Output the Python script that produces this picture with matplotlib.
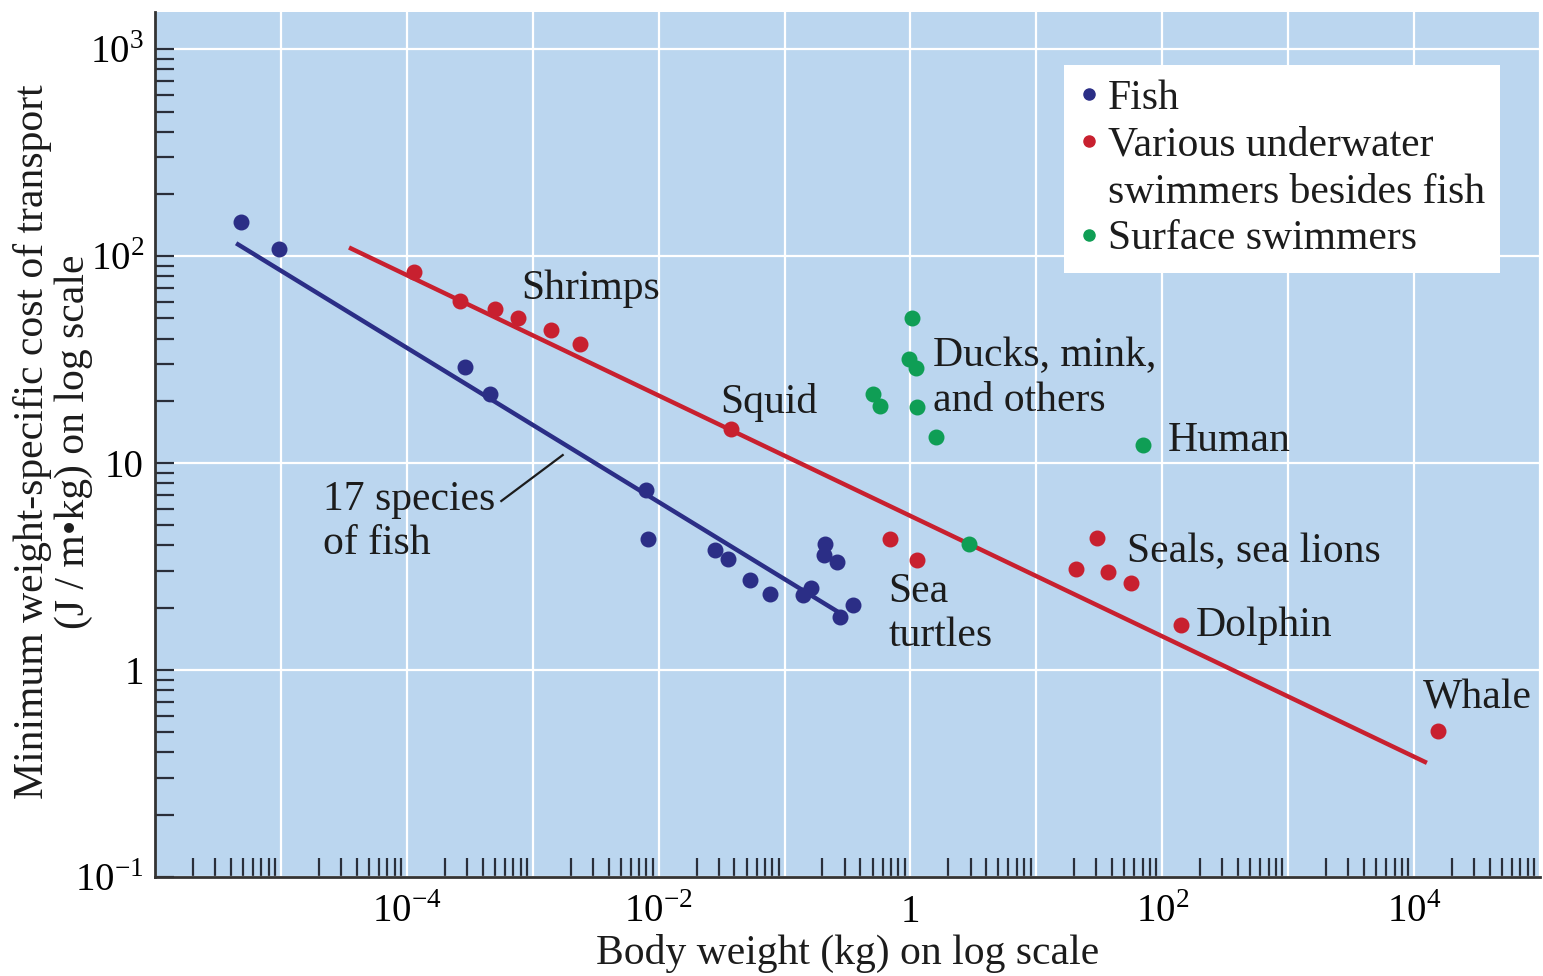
import matplotlib
matplotlib.use("Agg")
import matplotlib.pyplot as plt
import numpy as np
from matplotlib.lines import Line2D
from matplotlib.ticker import LogLocator, FixedLocator, NullFormatter

plt.rcParams['font.family'] = ['Liberation Serif', 'DejaVu Serif']
plt.rcParams['mathtext.fontset'] = 'custom'
plt.rcParams['mathtext.rm'] = 'Liberation Serif'

# body weight (kg), cost of transport (J / m kg)
fish_w = [4.8e-6, 9.6e-6, 2.9e-4, 4.6e-4, 7.9e-3, 8.2e-3, 0.0278, 0.0353, 0.0527,
          0.076, 0.139, 0.161, 0.211, 0.204, 0.259, 0.274, 0.347]
fish_c = [146, 108, 29, 21.5, 7.4, 4.3, 3.8, 3.44, 2.72, 2.33, 2.30, 2.49, 4.06,
          3.59, 3.32, 1.80, 2.06]

under_w = [1.14e-4, 2.64e-4, 4.99e-4, 7.6e-4, 1.39e-3, 2.36e-3, 0.0379, 0.693, 1.12,
           20.8, 30.5, 37.2, 56.8, 141.6, 15500]
under_c = [83.7, 61, 55.5, 50, 44, 37.6, 14.6, 4.29, 3.40, 3.07, 4.34, 2.97, 2.63,
           1.65, 0.507]

surf_w = [1.02, 0.98, 1.10, 0.508, 0.578, 1.12, 1.61, 70.6, 2.94]
surf_c = [50, 32, 28.8, 21.5, 18.9, 18.7, 13.4, 12.2, 4.06]

# fitted regression lines (end points)
fish_fit_w = [4.56e-6, 0.278]
fish_fit_c = [114, 1.88]
under_fit_w = [3.6e-5, 12200]
under_fit_c = [109, 0.36]

# labels: text, x, y (data)
labels = [
    ("Shrimps", 10**-3.095, 10**1.841),
    ("Squid", 10**-1.508, 10**1.295),
    ("Ducks, mink,\nand others", 10**0.183, 10**1.410),
    ("Human", 10**2.040, 10**1.106),
    ("17 species\nof fish", 10**-4.667, 10**0.718),
    ("Sea\nturtles", 10**-0.175, 10**0.273),
    ("Seals, sea lions", 10**1.722, 10**0.570),
    ("Dolphin", 10**2.270, 10**0.213),
    ("Whale", 10**4.071, 10**-0.135),
]
leader_w = [10**-3.250, 10**-2.762]
leader_c = [10**0.817, 10**1.039]

blue = '#2b2e86'
red = '#c8202f'
green = '#0f9e55'
bg = '#bbd6ef'
ink = '#1c1c1c'
fs = 30

fig = plt.figure(figsize=(15.43, 9.76), dpi=100)
ax = fig.add_axes([0.1005, 0.1014, 0.8975, 0.8863])
ax.set_facecolor(bg)
ax.set_xscale('log')
ax.set_yscale('log')
ax.set_xlim(1e-6, 1e5)
ax.set_ylim(0.1, 10**3.18)

ax.xaxis.set_major_locator(FixedLocator([10.0**k for k in range(-6, 6)]))
ax.yaxis.set_major_locator(FixedLocator([10.0**k for k in range(-1, 4)]))
ax.xaxis.set_minor_locator(LogLocator(base=10, subs=np.arange(2, 10), numticks=30))
ax.yaxis.set_minor_locator(LogLocator(base=10, subs=np.arange(2, 10), numticks=30))
ax.xaxis.set_minor_formatter(NullFormatter())
ax.yaxis.set_minor_formatter(NullFormatter())

xlab = {-4: r'$10^{-4}$', -2: r'$10^{-2}$', 0: '1', 2: r'$10^{2}$', 4: r'$10^{4}$'}
ax.set_xticklabels([xlab.get(k, '') for k in range(-6, 6)])
ax.set_yticklabels([r'$10^{-1}$', '1', '10', r'$10^{2}$', r'$10^{3}$'])

ax.grid(True, which='major', color='white', lw=1.6)
ax.set_axisbelow(True)
for s in ['top', 'right']:
    ax.spines[s].set_visible(False)
for s in ['left', 'bottom']:
    ax.spines[s].set_color('#333333')
    ax.spines[s].set_linewidth(2)
ax.tick_params(which='both', direction='in', length=14, width=1.6, color='#2a2f3a')
ax.tick_params(axis='x', which='major', length=0, labelsize=28, pad=12)
ax.tick_params(axis='y', which='major', labelsize=28, pad=8)

ax.plot(fish_fit_w, fish_fit_c, color=blue, lw=3.2, zorder=3)
ax.plot(under_fit_w, under_fit_c, color=red, lw=3.2, zorder=3)
ax.scatter(fish_w, fish_c, s=110, color=blue, zorder=4)
ax.scatter(under_w, under_c, s=110, color=red, zorder=4)
ax.scatter(surf_w, surf_c, s=110, color=green, zorder=4)

for t, x, y in labels:
    ax.text(x, y, t, fontsize=fs, ha='left', va='center', color=ink,
            linespacing=1.2, zorder=5)
ax.plot(leader_w, leader_c, color=ink, lw=1.6, zorder=5)

# legend: marker sits on the first line of the two-line entry
handles = [
    Line2D([], [], ls='', marker='o', ms=8, color=blue),
    Line2D([], [], ls='', marker='o', ms=8, color=red),
    Line2D([], [], ls='', marker=''),
    Line2D([], [], ls='', marker='o', ms=8, color=green),
]
names = ['Fish', 'Various underwater', 'swimmers besides fish', 'Surface swimmers']
leg = ax.legend(handles, names, loc='upper right', bbox_to_anchor=(0.971, 0.939),
                fontsize=fs, frameon=True, fancybox=False, framealpha=1,
                handletextpad=0.2, borderpad=0.35, labelspacing=0.2,
                handlelength=0.5, borderaxespad=0)
leg.get_frame().set_linewidth(0)
for t in leg.get_texts():
    t.set_color(ink)

ax.set_xlabel('Body weight (kg) on log scale', fontsize=fs, labelpad=2, color=ink)
ax.set_ylabel('Minimum weight-specific cost of transport\n(J / m\u2022kg) on log scale',
              fontsize=fs, linespacing=1.1, color=ink, va='center')
ax.yaxis.set_label_coords(-0.0736, 0.503)

fig.savefig('out.png', dpi=100, facecolor='white')
